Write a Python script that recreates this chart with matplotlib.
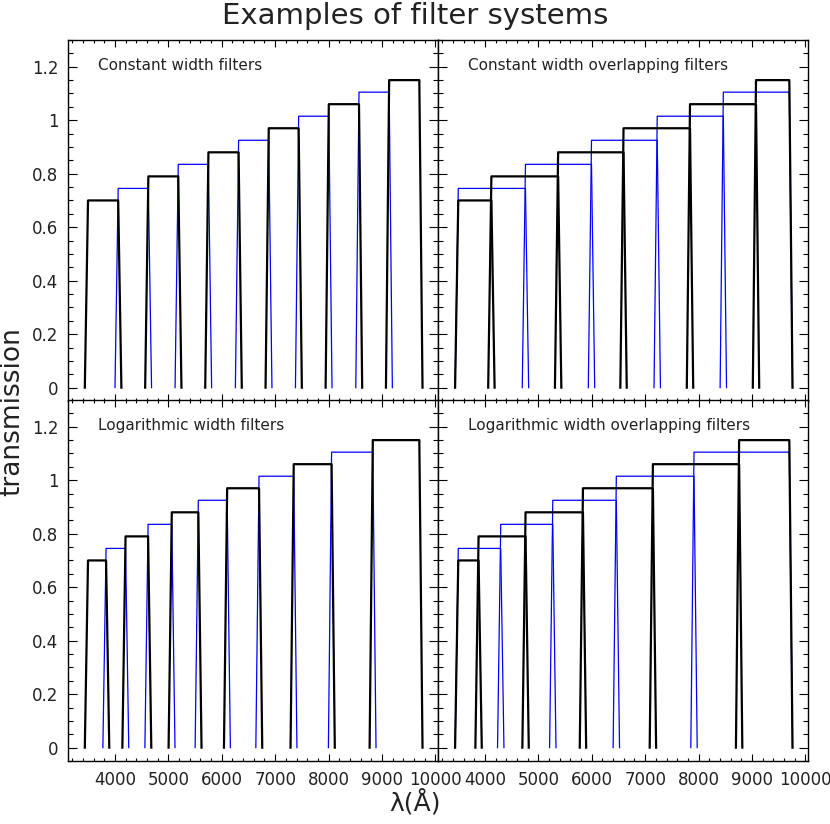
import matplotlib
matplotlib.use("Agg")
import matplotlib.pyplot as plt
from matplotlib.ticker import MultipleLocator, FuncFormatter

# filter heights, in order of central wavelength (black, blue, black, ...)
heights = [0.70, 0.745, 0.79, 0.835, 0.88, 0.925, 0.97, 1.015, 1.06, 1.105, 1.15]

# contiguous filters: filter i spans edges[i] .. edges[i+1]
const_edges = [3495, 4060, 4625, 5185, 5750, 6315, 6880, 7440, 8005, 8570, 9135, 9700]
log_edges = [3495, 3833, 4198, 4620, 5064, 5561, 6101, 6698, 7348, 8057, 8829, 9700]

# overlapping filters: black set and blue set
const_ov_black = [3500, 4120, 5370, 6595, 7840, 9076, 9700]
const_ov_blue = [3500, 4758, 5995, 7226, 8464, 9700]
log_ov_black = [3500, 3880, 4760, 5835, 7145, 8760, 9700]
log_ov_blue = [3500, 4295, 5270, 6460, 7915, 9700]

titles = ["Constant width filters", "Constant width overlapping filters",
          "Logarithmic width filters", "Logarithmic width overlapping filters"]

ramp = 60  # width of the sloped filter edges


def draw_filter(ax, lo, hi, h, blue):
    xs = [lo - ramp, lo, hi, hi + ramp]
    ys = [0, h, h, 0]
    if blue:
        ax.plot(xs, ys, color="#0000ff", lw=0.9, zorder=2)
    else:
        ax.plot(xs, ys, color="black", lw=1.6, zorder=3)


def contiguous(ax, edges):
    for i in range(len(edges) - 1):
        draw_filter(ax, edges[i], edges[i + 1], heights[i], i % 2 == 1)


def overlapping(ax, black, blue):
    for k in range(len(blue) - 1):
        draw_filter(ax, blue[k], blue[k + 1], heights[2 * k + 1], True)
    for k in range(len(black) - 1):
        draw_filter(ax, black[k], black[k + 1], heights[2 * k], False)


fig = plt.figure(figsize=(8.3, 8.24), dpi=100)
W, H = 830.0, 824.0
boxes = [(68, 40), (438, 40), (68, 400), (438, 400)]
pw, ph = 370.0, 361.0
axes = []
for (x0, y0) in boxes:
    ax = fig.add_axes([x0 / W, 1 - (y0 + ph) / H, pw / W, ph / H])
    axes.append(ax)

contiguous(axes[0], const_edges)
overlapping(axes[1], const_ov_black, const_ov_blue)
contiguous(axes[2], log_edges)
overlapping(axes[3], log_ov_black, log_ov_blue)

for i, ax in enumerate(axes):
    ax.set_xlim(3120, 10050)
    ax.set_ylim(-0.05, 1.3)
    ax.xaxis.set_major_locator(MultipleLocator(1000))
    ax.xaxis.set_minor_locator(MultipleLocator(200))
    ax.yaxis.set_major_locator(MultipleLocator(0.2))
    ax.yaxis.set_minor_locator(MultipleLocator(0.05))
    ax.tick_params(axis="x", which="major", direction="in", top=True, bottom=True,
                   length=5, width=0.8, labelsize=12, pad=7, labelcolor="#222222")
    ax.tick_params(axis="x", which="minor", direction="in", top=True, bottom=True,
                   length=2.5, width=0.8)
    ax.tick_params(axis="y", which="major", direction="in", left=True, right=True,
                   length=6.5, width=0.8, labelsize=12, pad=7, labelcolor="#222222")
    ax.tick_params(axis="y", which="minor", direction="in", left=True, right=True,
                   length=3.5, width=0.8)
    ax.yaxis.set_major_formatter(FuncFormatter(lambda v, p: "%g" % round(v, 2)))
    ax.xaxis.set_major_formatter(FuncFormatter(lambda v, p: "%d" % v))
    for s in ax.spines.values():
        s.set_linewidth(1.0)
    if i < 2:
        ax.tick_params(axis="x", labelbottom=False)
    if i % 2 == 1:
        ax.tick_params(axis="y", labelleft=False)
    ax.text(0.08, 0.93, titles[i], transform=ax.transAxes, fontsize=11,
            color="#222222", va="center", ha="left")

fig.text(0.5, 1 - 16 / H, "Examples of filter systems", ha="center", va="center",
         fontsize=21, color="#222222")
fig.text(12 / W, 0.5, "transmission", rotation=90, ha="center", va="center",
         fontsize=19, color="#222222")
fig.text(415 / W, 1 - 802 / H, "λ(Å)", ha="center", va="center",
         fontsize=18, color="#222222")

fig.savefig("out.png", dpi=100)
